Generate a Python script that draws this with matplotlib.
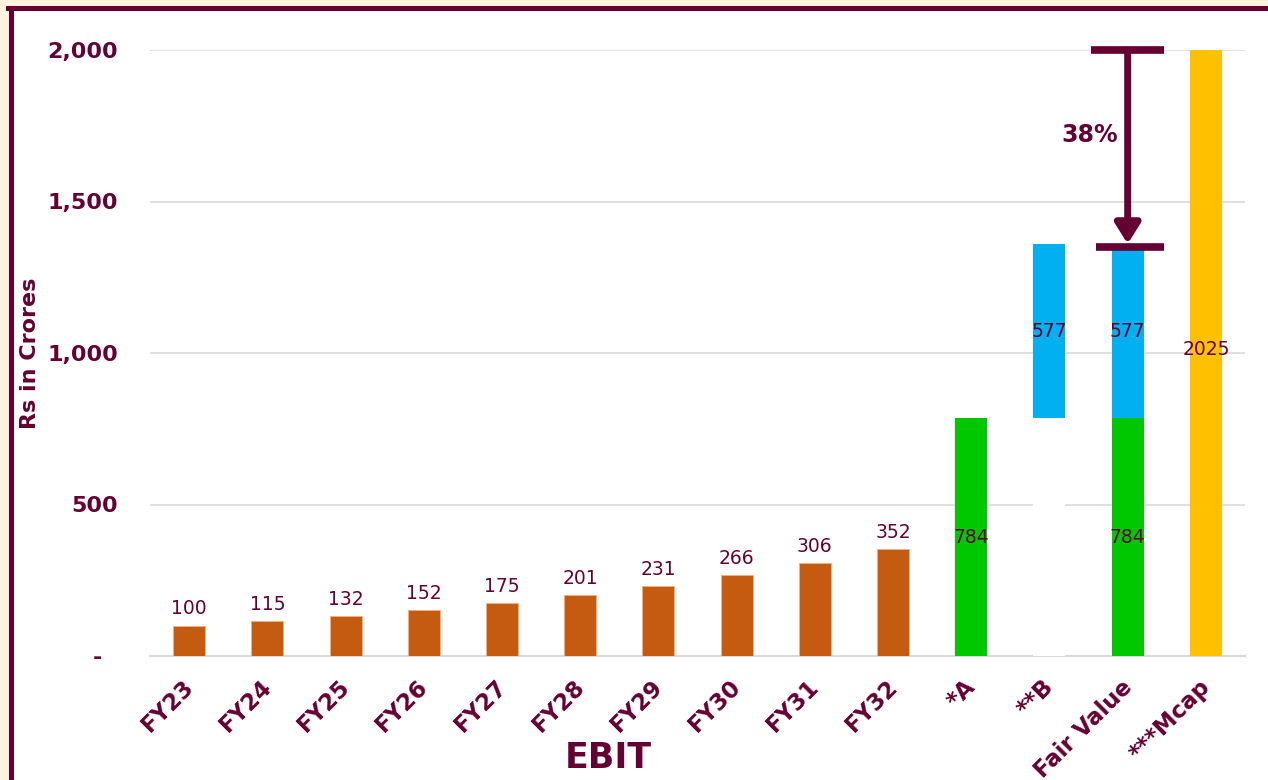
import matplotlib.pyplot as plt
import matplotlib.transforms as mtransforms
from matplotlib.patches import Rectangle
from matplotlib.lines import Line2D
import numpy as np

# dados do grafico (Rs in Crores)
anos = ["FY23", "FY24", "FY25", "FY26", "FY27", "FY28", "FY29", "FY30", "FY31", "FY32"]
ebit = [100, 115, 132, 152, 175, 201, 231, 266, 306, 352]
valor_a = 784
valor_b = 577
mcap = 2025
categorias = anos + ["*A", "**B", "Fair Value", "***Mcap"]
pct_texto = "38%"

MARROM = "#660033"
LARANJA = "#C55A11"
VERDE = "#00C800"
AZUL = "#00B0F0"
AMARELO = "#FFC000"

fig = plt.figure(figsize=(12.68, 7.8), dpi=100)
fig.patch.set_facecolor("#FFF3E0")

# moldura branca com borda marrom (esquerda e topo)
fig.patches.append(Rectangle((10 / 1268, 0), 1, 1 - 8 / 780, transform=fig.transFigure,
                             facecolor="white", edgecolor="none", zorder=-10))
fig.lines.append(Line2D([10.5 / 1268, 10.5 / 1268], [0, 1 - 8 / 780], transform=fig.transFigure,
                        color=MARROM, lw=3.6, zorder=-5))
fig.lines.append(Line2D([8 / 1268, 1], [1 - 8 / 780, 1 - 8 / 780], transform=fig.transFigure,
                        color=MARROM, lw=3.6, zorder=-5))

ax = fig.add_axes([150 / 1268, 1 - 656 / 780, (1245 - 150) / 1268, (656 - 50) / 780])
ax.set_facecolor("none")
ax.set_zorder(2)

x = np.arange(len(categorias))
larg = 0.41
n = len(anos)

# barras dos anos
ax.bar(x[:n], ebit, width=larg, color=LARANJA, edgecolor="#F4B183", linewidth=0.6, zorder=3)
for xi, v in zip(x[:n], ebit):
    ax.text(xi, v + 24, str(v), ha="center", va="bottom", fontsize=13.5, color=MARROM, zorder=5)

# *A
ax.bar(x[n], valor_a, width=larg, color=VERDE, zorder=3)
ax.text(x[n], valor_a / 2, str(valor_a), ha="center", va="center", fontsize=13.5, color=MARROM, zorder=5)

# **B (base invisivel em branco)
ax.bar(x[n + 1], valor_a, width=larg, color="white", zorder=3)
ax.bar(x[n + 1], valor_b, bottom=valor_a, width=larg, color=AZUL, zorder=3)
ax.text(x[n + 1], valor_a + valor_b / 2, str(valor_b), ha="center", va="center", fontsize=13.5,
        color=MARROM, zorder=5)

# Fair Value
ax.bar(x[n + 2], valor_a, width=larg, color=VERDE, zorder=3)
ax.bar(x[n + 2], valor_b, bottom=valor_a, width=larg, color=AZUL, zorder=3)
ax.text(x[n + 2], valor_a / 2, str(valor_a), ha="center", va="center", fontsize=13.5, color=MARROM, zorder=5)
ax.text(x[n + 2], valor_a + valor_b / 2, str(valor_b), ha="center", va="center", fontsize=13.5,
        color=MARROM, zorder=5)

# ***Mcap
ax.bar(x[n + 3], mcap, width=larg, color=AMARELO, zorder=3)
ax.text(x[n + 3], mcap / 2, str(mcap), ha="center", va="center", fontsize=13.5, color=MARROM, zorder=5)

ax.set_xlim(-0.5, len(categorias) - 0.5)
ax.set_ylim(0, 2000)

# seta de desconto
topo = min(mcap, 2000)
fundo = valor_a + valor_b - 11
xa = x[n + 2]
ax.plot([xa - 0.47, xa + 0.46], [topo, topo], color=MARROM, lw=5.5, clip_on=False, zorder=6,
        solid_capstyle="butt")
ax.plot([xa - 0.40, xa + 0.47], [fundo, fundo], color=MARROM, lw=5.5, clip_on=False, zorder=6,
        solid_capstyle="butt")
ax.annotate("", xy=(xa, fundo + 10), xytext=(xa, topo),
            arrowprops=dict(arrowstyle="-|>,head_length=1.2,head_width=0.75", color=MARROM, lw=5,
                            shrinkA=0, shrinkB=0), zorder=6, annotation_clip=False)
ax.text(xa - 0.12, 1720, pct_texto, ha="right", va="center", fontsize=17, fontweight="bold",
        color=MARROM, zorder=6)

# eixos e grade
ax.set_yticks([0, 500, 1000, 1500, 2000])
ax.set_yticklabels(["-  ", "500", "1,000", "1,500", "2,000"])
ax.yaxis.grid(True, color="#D9D9D9", lw=1.2, zorder=0)
ax.set_axisbelow(True)
ax.tick_params(axis="y", length=0, pad=23, labelsize=16, labelcolor=MARROM)
ax.tick_params(axis="x", length=0, pad=14, labelsize=16.5, labelcolor=MARROM)
for lbl in ax.get_yticklabels():
    lbl.set_fontweight("bold")
ax.set_xticks(x)
ax.set_xticklabels(categorias, rotation=45, ha="right", rotation_mode="anchor", fontweight="bold")
desloc = mtransforms.ScaledTranslation(-7 / 100, 0, fig.dpi_scale_trans)
for lbl in ax.get_xticklabels():
    lbl.set_transform(lbl.get_transform() + desloc)

for lado in ["top", "right", "left"]:
    ax.spines[lado].set_visible(False)
ax.spines["bottom"].set_color("#D9D9D9")
ax.spines["bottom"].set_linewidth(1.5)

fig.text(608 / 1268, 1 - 758 / 780, "EBIT", ha="center", va="center", fontsize=25,
         fontweight="bold", color=MARROM)
fig.text(30 / 1268, 1 - 353 / 780, "Rs in Crores", ha="center", va="center", rotation=90,
         fontsize=16, fontweight="bold", color=MARROM)

plt.savefig("out.png", dpi=100, facecolor=fig.get_facecolor())
plt.close()
